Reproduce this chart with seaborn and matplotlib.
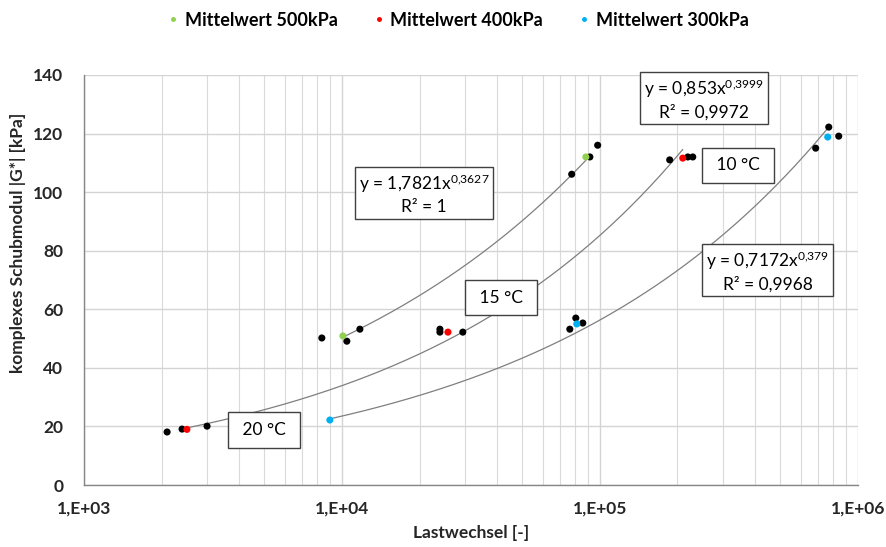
import numpy as np
import pandas as pd
import matplotlib
matplotlib.use("Agg")
import matplotlib.pyplot as plt
import seaborn as sns
from matplotlib.ticker import LogLocator, FixedLocator, NullFormatter

# ---- data ----
black_x = [2100, 2400, 3000, 8360, 10450, 11740, 23990, 23990, 29430,
           76500, 80700, 85900, 77800, 91500, 98100,
           186600, 219400, 229300, 687000, 772000, 844000]
black_y = [18.1, 19.1, 20.1, 50.2, 49.1, 53.2, 53.2, 52.2, 52.2,
           53.2, 57.0, 55.3, 106.1, 112.0, 116.0,
           111.0, 112.0, 112.0, 115.0, 122.2, 119.1]

series_names = ["Mittelwert 500kPa", "Mittelwert 400kPa", "Mittelwert 300kPa"]
series_colors = ["#92D050", "#FF0000", "#00B0F0"]
m500_x = [10090, 88300]
m500_y = [50.9, 112.0]
m400_x = [2506, 25770, 209700]
m400_y = [19.0, 52.2, 111.6]
m300_x = [8980, 81400, 765000]
m300_y = [22.2, 55.0, 118.8]

# power trendlines y = a * x^b
fit_a = [1.7821, 0.853, 0.7172]
fit_b = [0.3627, 0.3999, 0.379]
fit_labels = ["y = 1,7821x$^{0{,}3627}$\nR² = 1",
              "y = 0,853x$^{0{,}3999}$\nR² = 0,9972",
              "y = 0,7172x$^{0{,}379}$\nR² = 0,9968"]
fit_label_pos = [(20800, 99.5), (253000, 131.7), (448000, 73.0)]

temp_labels = ["20 °C", "15 °C", "10 °C"]
temp_pos = [(4990, 18.8), (41300, 64.0), (343000, 109.2)]

x_ticks = [1e3, 1e4, 1e5, 1e6]
x_ticklabels = ["1,E+03", "1,E+04", "1,E+05", "1,E+06"]
y_ticks = [0, 20, 40, 60, 80, 100, 120, 140]

# ---- plot ----
sns.set_style("white")
plt.rcParams["font.family"] = ["Lato", "DejaVu Sans"]
plt.rcParams["mathtext.default"] = "regular"
plt.rcParams["text.color"] = "black"

fig = plt.figure(figsize=(8.87, 5.47), dpi=100)
ax = fig.add_axes([0.0947, 0.1133, 0.8723, 0.7497])

ax.set_xscale("log")
ax.set_xlim(1e3, 1e6)
ax.set_ylim(0, 140)

# grid
ax.xaxis.set_major_locator(FixedLocator(x_ticks))
ax.xaxis.set_minor_locator(LogLocator(base=10, subs=np.arange(2, 10)))
ax.xaxis.set_minor_formatter(NullFormatter())
ax.set_yticks(y_ticks)
ax.grid(True, which="major", axis="both", color="#D4D4D4", lw=1.0)
ax.grid(True, which="minor", axis="x", color="#DADADA", lw=0.8)
ax.set_axisbelow(True)

# trendlines
all_x = [m500_x, m400_x, m300_x]
for a, b, xs in zip(fit_a, fit_b, all_x):
    xx = np.logspace(np.log10(min(xs)), np.log10(max(xs)), 200)
    sns.lineplot(x=xx, y=a * xx ** b, ax=ax, color="#7F7F7F", lw=0.9, legend=False)

# black individual points
sns.scatterplot(x=black_x, y=black_y, ax=ax, color="black", s=26,
                edgecolor="none", legend=False, zorder=3)

# mean series
all_y = [m500_y, m400_y, m300_y]
df = pd.concat([pd.DataFrame({"x": xs, "y": ys, "s": n})
                for xs, ys, n in zip(all_x, all_y, series_names)])
sns.scatterplot(data=df, x="x", y="y", hue="s", hue_order=series_names,
                palette=series_colors, s=26, edgecolor="none", ax=ax, zorder=4)

# labels / boxes
box_t = dict(boxstyle="square,pad=0.55", fc="white", ec="#404040", lw=1.0)
box_e = dict(boxstyle="square,pad=0.22", fc="white", ec="#404040", lw=1.0)
for (px, py), t in zip(temp_pos, temp_labels):
    ax.text(px, py, " " + t + " ", ha="center", va="center", fontsize=12.5,
            bbox=box_t, zorder=5)
for (px, py), t in zip(fit_label_pos, fit_labels):
    ax.text(px, py, t, ha="center", va="center", fontsize=12.5, bbox=box_e,
            linespacing=1.3, zorder=5)

ax.set_xticklabels(x_ticklabels, fontsize=12.5, fontweight="bold")
ax.set_yticklabels([str(v) for v in y_ticks], fontsize=12.5, fontweight="bold")
ax.set_xlabel("Lastwechsel [-]", fontsize=12.5, fontweight="bold")
ax.xaxis.set_label_coords(0.5, -0.097)
ax.set_ylabel("komplexes Schubmodul |G*| [kPa]", fontsize=12.5, fontweight="bold")
ax.yaxis.set_label_coords(-0.075, 0.59)

for side in ["top", "right"]:
    ax.spines[side].set_visible(False)
for side in ["left", "bottom"]:
    ax.spines[side].set_color("#868686")
    ax.spines[side].set_linewidth(1.0)
ax.tick_params(axis="both", which="major", length=5, color="#868686", direction="out")
ax.tick_params(axis="x", which="minor", length=0)
ax.tick_params(axis="x", pad=6)
ax.tick_params(axis="y", pad=10)

handles, labels = ax.get_legend_handles_labels()
leg = ax.legend(handles, labels, loc="center", bbox_to_anchor=(0.513, 0.963),
                bbox_transform=fig.transFigure, ncol=3, frameon=False,
                markerscale=0.7, handletextpad=0.0, columnspacing=1.6,
                handlelength=1.3, prop={"weight": "bold", "size": 13})

fig.savefig("out.png", dpi=100)
